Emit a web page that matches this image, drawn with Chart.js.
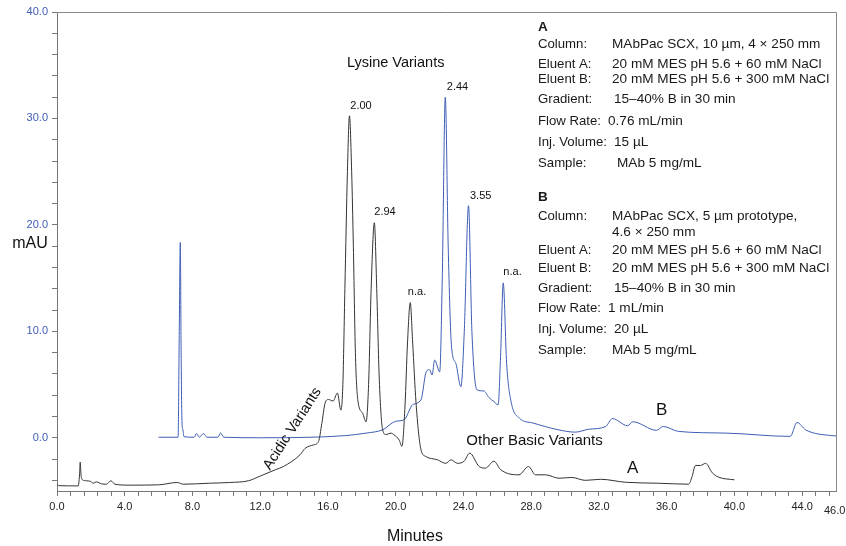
<!DOCTYPE html>
<html>
<head>
<meta charset="utf-8">
<script src="https://cdn.jsdelivr.net/npm/chart.js@4.4.1/dist/chart.umd.min.js"></script>
<style>
    body { margin: 0; background: #fff; }
    canvas { display: block; }
</style>
</head>
<body>
<canvas id="cromatograma" width="846" height="546"></canvas>
<script>
// Trace A (MAbPac SCX 10 µm), minutes / mAU
const tiemposA = [0.0, 0.1, 1.25, 1.33, 1.37, 1.42, 1.5, 1.75, 1.98, 2.14, 2.33, 2.63, 2.92, 3.18, 3.42, 4.3, 6.0, 7.1, 7.45, 9.0,
    10.2, 11.3, 12.0, 12.9, 13.37, 14.35, 14.65, 15.14, 15.44, 15.64, 15.83, 16.03, 16.3, 16.56, 16.76, 16.88, 17.0, 17.15, 17.27,
    17.4, 17.5, 17.62, 17.76, 18.05, 18.25, 18.4, 18.55, 18.74, 18.88, 19.03, 19.23, 19.43, 19.72, 19.9, 20.2, 20.37, 20.55, 20.7, 20.86,
    21.0, 21.2, 21.49, 21.78, 22.47, 22.96, 23.26, 23.65, 24.04, 24.37, 24.93, 25.3, 25.8, 26.2, 27.28, 27.84, 28.26, 28.85, 29.64, 30.4,
    31.2, 32.1, 33.57, 35.5, 37.3, 37.5, 37.7, 38.0, 38.3, 38.7, 39.07, 40.0];
const valoresA = [-4.35, -4.5, -4.52, -3.5, -2.28, -3.5, -3.95, -4.04, -4.1, -4.27, -4.14, -4.33, -4.36, -4.04, -4.36, -4.45, -4.42, -4.2, -4.36, -4.27,
    -4.2, -4.04, -3.6, -3.0, -2.7, -1.6, -1.0, -0.67, -0.36, 1.36, 3.25, 3.6, 3.45, 4.2, 2.6, 5.0, 14.0, 25.0, 30.25,
    25.0, 18.0, 8.0, 3.6, 2.3, 1.5, 5.0, 14.0, 20.2, 14.0, 5.5, 0.75, 0.3, 0.44, 0.28, -0.2, -0.8, 3.0, 9.0, 12.7,
    9.0, 3.3, -1.1, -1.76, -2.07, -2.4, -2.07, -2.4, -2.2, -1.44, -2.7, -2.85, -2.2, -3.0, -3.48, -2.7, -3.48, -3.48, -3.8, -3.73,
    -4.0, -3.9, -4.18, -4.27, -4.36, -3.65, -2.6, -2.6, -2.4, -3.3, -3.7, -3.95];

// Trace B (MAbPac SCX 5 µm prototype)
const tiemposB = [6.0, 7.15, 7.22, 7.28, 7.33, 7.38, 7.43, 7.5, 8.1, 8.23, 8.4, 8.66, 8.85, 9.5, 9.66, 9.85, 12.0, 15.0, 17.0, 18.25,
    19.23, 20.0, 20.5, 21.0, 21.5, 21.8, 22.0, 22.15, 22.3, 22.6, 22.75, 22.93, 23.1, 23.3, 23.55, 23.85, 24.05, 24.3, 24.5, 24.8,
    25.2, 25.5, 25.8, 26.05, 26.2, 26.35, 26.55, 26.8, 27.3, 28.07, 29.6, 30.6, 31.4, 32.4, 32.8, 33.7, 34.0, 35.4, 35.8, 36.7,
    39.5, 43.3, 43.7, 44.2, 45.75, 46.0];
const valoresB = [0.05, 0.05, 10.0, 18.35, 8.0, 1.5, 0.8, 0.1, 0.05, 0.4, 0.05, 0.4, 0.05, 0.05, 0.45, 0.05, 0.0, 0.05, 0.2, 0.44,
    0.75, 1.55, 1.7, 3.1, 3.6, 6.2, 6.4, 5.9, 7.3, 6.2, 15.0, 32.0, 18.0, 8.5, 7.0, 4.8, 10.0, 21.8, 10.0, 4.5,
    4.4, 3.8, 3.4, 3.1, 8.0, 14.55, 7.0, 3.5, 1.85, 1.4, 0.75, 0.53, 0.8, 1.06, 1.8, 1.13, 1.5, 0.7, 1.06, 0.6,
    0.44, 0.13, 1.44, 0.75, 0.2, 0.18];

// Axis labels
const xEtiquetas = [0, 4, 8, 12, 16, 20, 24, 28, 32, 36, 40, 44];
const yEtiquetas = [0, 10, 20, 30, 40];

// Peak labels: [text, minute, mAU]
const picos = [
    ['2.00', 17.95, 31.2],
    ['2.94', 19.37, 21.25],
    ['n.a.', 21.26, 13.7],
    ['2.44', 23.65, 32.95],
    ['3.55', 25.02, 22.75],
    ['n.a.', 26.9, 15.6]
];

const infoA = [
    ['Column:', 'MAbPac SCX, 10 µm, 4 × 250 mm', 44, 612],
    ['Eluent A:', '20 mM MES pH 5.6 + 60 mM NaCl', 64, 612],
    ['Eluent B:', '20 mM MES pH 5.6 + 300 mM NaCl', 79, 612],
    ['Gradient:', '15–40% B in 30 min', 99, 614],
    ['Flow Rate:', '0.76 mL/min', 121, 608],
    ['Inj. Volume:', '15 µL', 142, 614],
    ['Sample:', 'MAb 5 mg/mL', 163, 617]
];
const infoB = [
    ['Column:', 'MAbPac SCX, 5 µm prototype,', 216, 612],
    ['', '4.6 × 250 mm', 232, 612],
    ['Eluent A:', '20 mM MES pH 5.6 + 60 mM NaCl', 250, 612],
    ['Eluent B:', '20 mM MES pH 5.6 + 300 mM NaCl', 268, 612],
    ['Gradient:', '15–40% B in 30 min', 288, 614],
    ['Flow Rate:', '1 mL/min', 308, 608],
    ['Inj. Volume:', '20 µL', 329, 614],
    ['Sample:', 'MAb 5 mg/mL', 350, 612]
];

const FUENTE = "'Liberation Sans', Arial, sans-serif";
const AZUL = '#3f5db5';

function puntos(xs, ys) {
    return xs.map((x, i) => ({ x: x, y: ys[i] }));
}

function marcas(desde, hasta, paso) {
    const lista = [];
    for (let v = desde; v <= hasta + 1e-9; v += paso) {
        lista.push({ value: Math.round(v * 10) / 10 });
    }
    return lista;
}

// Texts, frame and the hand-placed labels
const textosPlugin = {
    id: 'textos',
    afterDraw(chart) {
        const c = chart.ctx;
        const xs = chart.scales.x;
        const ys = chart.scales.y;
        const area = chart.chartArea;

        c.save();
        c.strokeStyle = '#888';
        c.lineWidth = 1;
        c.beginPath();
        c.moveTo(area.left, area.top + 0.5);
        c.lineTo(area.right + 0.5, area.top + 0.5);
        c.lineTo(area.right + 0.5, area.bottom);
        c.stroke();

        c.fillStyle = '#111';
        c.textBaseline = 'middle';
        c.textAlign = 'center';

        c.font = '11px ' + FUENTE;
        picos.forEach(p => {
            c.fillText(p[0], xs.getPixelForValue(p[1]), ys.getPixelForValue(p[2]));
        });

        c.font = '14.5px ' + FUENTE;
        c.fillText('Lysine Variants', xs.getPixelForValue(20.0), ys.getPixelForValue(35.2));
        c.font = '15px ' + FUENTE;
        c.fillText('Other Basic Variants', xs.getPixelForValue(28.2), ys.getPixelForValue(-0.3));

        c.save();
        c.font = '14.5px ' + FUENTE;
        c.translate(xs.getPixelForValue(13.9), ys.getPixelForValue(0.85));
        c.rotate(-57 * Math.PI / 180);
        c.fillText('Acidic Variants', 0, 0);
        c.restore();

        c.font = '17px ' + FUENTE;
        c.fillText('B', xs.getPixelForValue(35.7), ys.getPixelForValue(2.6));
        c.fillText('A', xs.getPixelForValue(34.0), ys.getPixelForValue(-2.9));

        // axis titles
        c.font = '16px ' + FUENTE;
        c.fillText('mAU', 30, 244);
        c.fillText('Minutes', 415, 537);

        c.font = '11px ' + FUENTE;
        c.fillStyle = '#222';
        c.textAlign = 'left';
        c.fillText('46.0', 824, 511);

        // conditions block
        c.fillStyle = '#1a1a1a';
        c.font = 'bold 13.5px ' + FUENTE;
        c.fillText('A', 538, 27);
        c.fillText('B', 538, 197);
        infoA.concat(infoB).forEach(f => {
            c.font = '13.2px ' + FUENTE;
            c.fillText(f[0], 538, f[2]);
            c.font = '13.6px ' + FUENTE;
            c.fillText(f[1], f[3], f[2]);
        });
        c.restore();
    }
};

function crearCromatograma() {
    const ctx = document.getElementById('cromatograma');

    new Chart(ctx, {
        type: 'line',
        data: {
            datasets: [{
                label: 'A',
                data: puntos(tiemposA, valoresA),
                borderColor: '#333',
                borderWidth: 1,
                pointRadius: 0,
                cubicInterpolationMode: 'monotone',
                fill: false
            }, {
                label: 'B',
                data: puntos(tiemposB, valoresB),
                borderColor: AZUL,
                borderWidth: 1,
                pointRadius: 0,
                cubicInterpolationMode: 'monotone',
                fill: false
            }]
        },
        options: {
            responsive: false,
            animation: false,
            layout: { padding: { top: 12, right: 10, left: 0, bottom: 0 } },
            plugins: {
                legend: { display: false },
                tooltip: { enabled: false }
            },
            scales: {
                x: {
                    type: 'linear',
                    min: 0,
                    max: 46,
                    afterBuildTicks: s => { s.ticks = marcas(0, 45.6, 0.8); },
                    afterFit: s => { s.height = 55; },
                    grid: { drawOnChartArea: false, tickLength: 5, color: '#777' },
                    border: { color: '#777' },
                    ticks: {
                        autoSkip: false,
                        maxRotation: 0,
                        padding: 4,
                        color: '#222',
                        font: { family: FUENTE, size: 11 },
                        callback: v => xEtiquetas.some(t => Math.abs(t - v) < 1e-6) ? v.toFixed(1) : ''
                    }
                },
                y: {
                    min: -5,
                    max: 40,
                    afterBuildTicks: s => { s.ticks = marcas(-4, 40, 2); },
                    afterFit: s => { s.width = 57; },
                    grid: { drawOnChartArea: false, tickLength: 5, color: '#777' },
                    border: { color: '#777' },
                    ticks: {
                        autoSkip: false,
                        padding: 4,
                        color: AZUL,
                        font: { family: FUENTE, size: 11 },
                        callback: v => yEtiquetas.some(t => Math.abs(t - v) < 1e-6) ? v.toFixed(1) : ''
                    }
                }
            }
        },
        plugins: [textosPlugin]
    });
}

crearCromatograma();
</script>
</body>
</html>
